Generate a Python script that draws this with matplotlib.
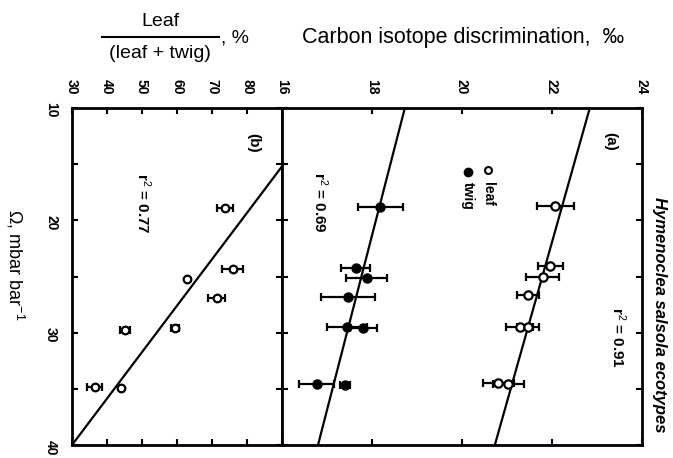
import numpy as np
import matplotlib
matplotlib.use("Agg")
import matplotlib.pyplot as plt
from matplotlib.ticker import MultipleLocator
from matplotlib.lines import Line2D

plt.rcParams['font.family'] = ['Liberation Sans', 'DejaVu Sans']
plt.rcParams['mathtext.fontset'] = 'custom'
plt.rcParams['mathtext.rm'] = 'Liberation Sans'
plt.rcParams['mathtext.it'] = 'Liberation Sans:italic'

# panel (a): carbon isotope discrimination (per mil) vs omega
leaf_omega = [18.7, 24.1, 25.0, 26.65, 29.5, 29.5, 34.5, 34.6]
leaf_disc = [22.07, 21.96, 21.79, 21.47, 21.28, 21.47, 20.81, 21.03]
leaf_err = [0.41, 0.28, 0.37, 0.24, 0.30, 0.25, 0.35, 0.35]

twig_omega = [18.8, 24.2, 25.1, 26.8, 29.5, 29.6, 34.6, 34.7]
twig_disc = [18.18, 17.64, 17.88, 17.47, 17.45, 17.80, 16.77, 17.40]
twig_err = [0.50, 0.32, 0.45, 0.60, 0.45, 0.30, 0.39, 0.10]

# panel (b): leaf / (leaf + twig), %
frac_omega = [18.9, 24.3, 25.2, 26.9, 29.6, 29.8, 34.8, 34.9]
frac_leaf = [73.7, 75.9, 62.8, 71.3, 59.4, 45.1, 36.5, 44.0]
frac_err = [2.3, 3.0, 0.0, 2.5, 1.2, 1.5, 2.2, 0.0]

# regression lines (end points)
fit_omega = [10, 40]
leaf_fit = [22.84, 20.73]
twig_fit = [18.73, 16.80]
frac_fit_omega = [15.2, 40]
frac_fit = [90, 30]

disc_ticks = [16, 18, 20, 22, 24]
frac_ticks = [30, 40, 50, 60, 70, 80]
omega_ticks = [10, 20, 30, 40]

W, H = 673, 458
fig = plt.figure(figsize=(W / 100, H / 100), dpi=100)


def box(x0, x1, y0, y1):
    return [x0 / W, 1 - y1 / H, (x1 - x0) / W, (y1 - y0) / H]


axb = fig.add_axes(box(72, 282, 108, 445))
axa = fig.add_axes(box(282, 642, 108, 445))

for ax in (axa, axb):
    ax.set_ylim(40, 10)
    ax.yaxis.set_major_locator(MultipleLocator(10))
    ax.yaxis.set_minor_locator(MultipleLocator(5))
    for s in ax.spines.values():
        s.set_linewidth(2)
    ax.tick_params(which='both', direction='in', top=True, bottom=True,
                   left=True, right=True, length=4, width=1.5)
    ax.tick_params(axis='x', labeltop=True, labelbottom=False,
                   labelrotation=270, labelsize=10, pad=10)

axb.tick_params(axis='y', labelleft=True, labelrotation=270, labelsize=10, pad=10)
axa.tick_params(axis='y', labelleft=False)
axb.set_yticks(omega_ticks)
for lab in axb.get_yticklabels():
    lab.set_fontweight('bold')

# panel (a)
axa.set_xlim(16, 24)
axa.set_xticks(disc_ticks)
axa.plot(leaf_fit, fit_omega, color='black', lw=1.6)
axa.plot(twig_fit, fit_omega, color='black', lw=1.6)
axa.errorbar(leaf_disc, leaf_omega, xerr=leaf_err, fmt='o', ms=6,
             mfc='white', mec='black', mew=1.6, ecolor='black',
             elinewidth=1.6, capsize=3, capthick=1.6, zorder=3)
axa.errorbar(twig_disc, twig_omega, xerr=twig_err, fmt='o', ms=6.5,
             mfc='black', mec='black', ecolor='black',
             elinewidth=1.6, capsize=3, capthick=1.6, zorder=3)

axa.text(0.911, 0.90, '(a)', transform=axa.transAxes, rotation=270,
         ha='center', va='center', fontsize=11, fontweight='bold')
axa.plot([0.572], [0.816], 'o', ms=5, mfc='white', mec='black', mew=1.5,
         transform=axa.transAxes)
axa.plot([0.517], [0.81], 'o', ms=6, color='black', transform=axa.transAxes)
axa.text(0.572, 0.78, 'leaf', transform=axa.transAxes, rotation=270,
         ha='center', va='top', fontsize=10, fontweight='bold')
axa.text(0.517, 0.78, 'twig', transform=axa.transAxes, rotation=270,
         ha='center', va='top', fontsize=10, fontweight='bold')
axa.text(0.933, 0.318, r'r$^2$ = 0.91', transform=axa.transAxes,
         rotation=270, ha='center', va='center', fontsize=11, fontweight='bold')
axa.text(0.106, 0.72, r'r$^2$ = 0.69', transform=axa.transAxes,
         rotation=270, ha='center', va='center', fontsize=11, fontweight='bold')

# panel (b)
axb.set_xlim(30, 90)
axb.set_xticks(frac_ticks)
axb.plot(frac_fit, frac_fit_omega, color='black', lw=1.6)
axb.errorbar(frac_leaf, frac_omega, xerr=frac_err, fmt='o', ms=5.5,
             mfc='white', mec='black', mew=1.6, ecolor='black',
             elinewidth=1.6, capsize=3, capthick=1.6, zorder=3)
axb.text(0.862, 0.896, '(b)', transform=axb.transAxes, rotation=270,
         ha='center', va='center', fontsize=11, fontweight='bold')
axb.text(0.338, 0.718, r'r$^2$ = 0.77', transform=axb.transAxes,
         rotation=270, ha='center', va='center', fontsize=11, fontweight='bold')

for ax in (axa, axb):
    for lab in ax.get_xticklabels():
        lab.set_fontweight('bold')

# axis titles
fig.text(463 / W, 1 - 37 / H, 'Carbon isotope discrimination,  ‰',
         ha='center', va='center', fontsize=15.5)
fig.text(160 / W, 1 - 21 / H, 'Leaf', ha='center', va='center', fontsize=14)
fig.text(160 / W, 1 - 53 / H, '(leaf + twig)', ha='center', va='center', fontsize=14)
fig.add_artist(Line2D([102 / W, 219 / W], [1 - 37 / H, 1 - 37 / H],
                      color='black', lw=1.5))
fig.text(221 / W, 1 - 38 / H, ', %', ha='left', va='center', fontsize=14)
fig.text(15 / W, 1 - 265 / H, 'Ω, mbar bar$^{-1}$', rotation=270,
         ha='center', va='center', fontsize=13)
fig.text(660 / W, 1 - 315 / H, 'Hymenoclea salsola ecotypes', rotation=270,
         ha='center', va='center', fontsize=12, style='italic', fontweight='bold')

fig.savefig('out.png', dpi=100)
